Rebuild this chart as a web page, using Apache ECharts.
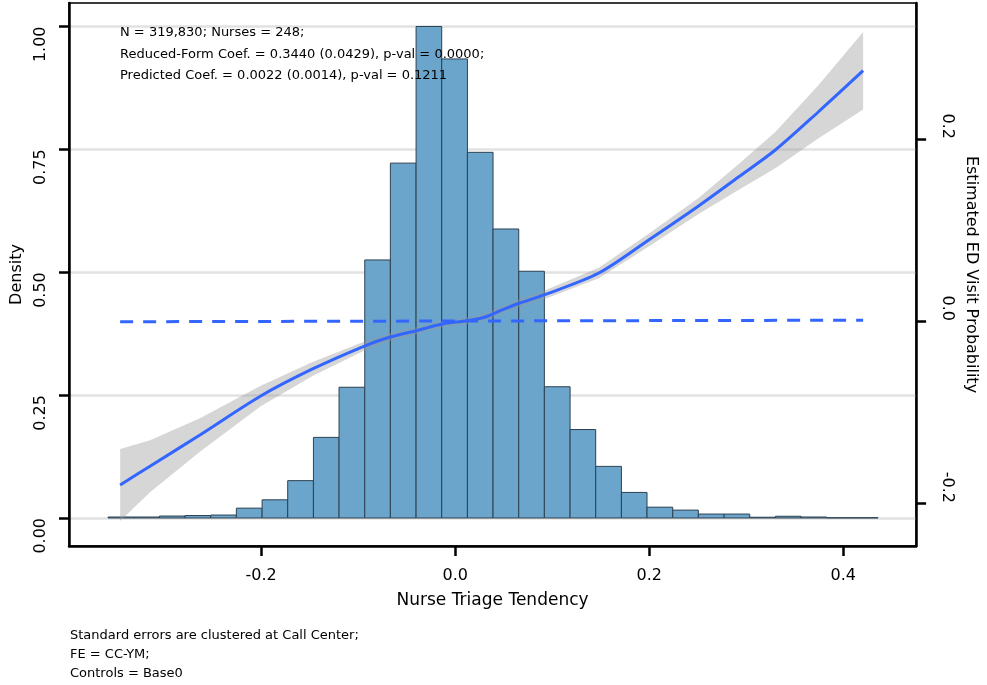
<!DOCTYPE html>
<html><head><meta charset="utf-8">
<script src="https://cdn.jsdelivr.net/npm/echarts@6/dist/echarts.min.js"></script>
<style>html,body{margin:0;padding:0;background:#fff}#c{width:987px;height:685px}</style>
</head><body><div id="c"></div>
<script>
// Histogram bin edges (Nurse Triage Tendency) and density heights
const binEdges = [-0.3577, -0.3313, -0.3048, -0.2784, -0.2519, -0.2255, -0.1990, -0.1726, -0.1461, -0.1197,
  -0.0932, -0.0668, -0.0403, -0.0139, 0.0126, 0.0390, 0.0655, 0.0919, 0.1184, 0.1448,
  0.1713, 0.1977, 0.2242, 0.2506, 0.2771, 0.3035, 0.3300, 0.3564, 0.3829, 0.4093, 0.4358];
const density = [0.002, 0.002, 0.004, 0.005, 0.006, 0.020, 0.037, 0.076, 0.164, 0.266,
  0.525, 0.722, 1.000, 0.934, 0.744, 0.588, 0.502, 0.267, 0.180, 0.105,
  0.052, 0.022, 0.016, 0.008, 0.008, 0.0015, 0.0035, 0.002, 0.0005, 0.0005];
// Reduced-form fit (right axis) with confidence band
const fitX = [-0.3453, -0.3145, -0.2631, -0.2004, -0.1470, -0.0935, -0.0678, -0.0401, -0.0134, 0.0123,
  0.0319, 0.0483, 0.0658, 0.0915, 0.1480, 0.1994, 0.2508, 0.2919, 0.3299, 0.3741, 0.4204];
const fitY = [-0.1802, -0.1596, -0.1253, -0.0824, -0.0527, -0.0275, -0.0179, -0.0107, -0.0033, 0.0003,
  0.0047, 0.0121, 0.0195, 0.0286, 0.0527, 0.0890, 0.1264, 0.1582, 0.1879, 0.2297, 0.2751];
const fitLower = [-0.2198, -0.1882, -0.1438, -0.0936, -0.0604, -0.0325, -0.0222, -0.0146, -0.0068, -0.0032,
  0.0010, 0.0081, 0.0153, 0.0239, 0.0470, 0.0820, 0.1175, 0.1440, 0.1680, 0.2005, 0.2325];
const fitUpper = [-0.1407, -0.1310, -0.1068, -0.0712, -0.0450, -0.0225, -0.0136, -0.0068, 0.0002, 0.0038,
  0.0084, 0.0161, 0.0237, 0.0333, 0.0584, 0.0960, 0.1353, 0.1724, 0.2078, 0.2589, 0.3177];
// Predicted fit (dashed)
const predX = [-0.3453, 0.4204];
const predY = [-0.0008, 0.0009];
// Tick labels
const xTicks = [-0.2, 0.0, 0.2, 0.4];
const densityTicks = [0, 0.25, 0.5, 0.75, 1.0];
const probTicks = [-0.2, 0.0, 0.2];
const noteTop = ['N = 319,830; Nurses = 248;',
  'Reduced-Form Coef. = 0.3440 (0.0429), p-val = 0.0000;',
  'Predicted Coef. = 0.0022 (0.0014), p-val = 0.1211'];
const noteBottom = ['Standard errors are clustered at Call Center;', 'FE = CC-YM;', 'Controls = Base0'];

const FONT = 'DejaVu Sans';
const chart = echarts.init(document.getElementById('c'), null, {renderer: 'canvas'});
const axisLineStyle = {color: '#000', width: 2.5};
chart.setOption({
  animation: false,
  backgroundColor: '#fff',
  textStyle: {fontFamily: FONT},
  grid: {left: 69, right: 69, top: 3, bottom: 139, show: true, borderColor: '#3a3a3a', borderWidth: 2, backgroundColor: 'transparent'},
  xAxis: {
    type: 'value', min: -0.398, max: 0.475,
    axisLine: {show: true, onZero: false, lineStyle: axisLineStyle},
    axisTick: {show: true, length: 10, lineStyle: axisLineStyle, customValues: xTicks},
    axisLabel: {customValues: xTicks, formatter: v => v.toFixed(1), fontSize: 16, color: '#000', margin: 22, fontFamily: FONT},
    splitLine: {show: false},
    name: 'Nurse Triage Tendency', nameLocation: 'middle', nameGap: 46,
    nameTextStyle: {fontSize: 17, color: '#000', fontFamily: FONT}
  },
  yAxis: [{
    type: 'value', min: -0.057, max: 1.0478, position: 'left',
    axisLine: {show: true, onZero: false, lineStyle: axisLineStyle},
    axisTick: {show: true, length: 10, lineStyle: axisLineStyle, customValues: densityTicks},
    axisLabel: {customValues: densityTicks, formatter: v => v.toFixed(2), rotate: 90, align: 'right', verticalAlign: 'bottom',
      fontSize: 16, color: '#000', margin: 20, fontFamily: FONT},
    splitLine: {show: true, lineStyle: {color: '#e2e2e2', width: 2.5}},
    name: 'Density', nameLocation: 'middle', nameRotate: 90, nameGap: 42,
    nameTextStyle: {fontSize: 16, color: '#000', fontFamily: FONT}
  }, {
    type: 'value', min: -0.2473, max: 0.3495, position: 'right',
    axisLine: {show: true, onZero: false, lineStyle: axisLineStyle},
    axisTick: {show: true, length: 10, lineStyle: axisLineStyle, customValues: probTicks},
    axisLabel: {customValues: probTicks, formatter: v => v.toFixed(1), rotate: -90, align: 'right', verticalAlign: 'bottom',
      fontSize: 16, color: '#000', margin: 23, fontFamily: FONT},
    splitLine: {show: false},
    name: 'Estimated ED Visit Probability', nameLocation: 'middle', nameRotate: -90, nameGap: 46,
    nameTextStyle: {fontSize: 16, color: '#000', fontFamily: FONT}
  }],
  series: [{
    type: 'custom', name: 'hist', xAxisIndex: 0, yAxisIndex: 0, clip: true,
    data: density.map((d, i) => [binEdges[i], binEdges[i + 1], d]),
    encode: {x: [0, 1], y: 2},
    renderItem: function (params, api) {
      const p0 = api.coord([api.value(0), 0]);
      const p1 = api.coord([api.value(1), api.value(2)]);
      return {type: 'rect', shape: {x: p0[0], y: p1[1], width: p1[0] - p0[0], height: p0[1] - p1[1]},
        style: {fill: '#6ba5cc', stroke: '#2d4150', lineWidth: 1}};
    },
    z: 2
  }, {
    type: 'custom', name: 'band', xAxisIndex: 0, yAxisIndex: 1, clip: true,
    data: fitX.map((x, i) => [x, fitLower[i], fitUpper[i]]),
    encode: {x: 0, y: [1, 2]},
    renderItem: function (params, api) {
      if (params.dataIndex !== 0) return null;
      const pts = [];
      for (let i = 0; i < fitX.length; i++) pts.push(api.coord([fitX[i], fitUpper[i]]));
      for (let i = fitX.length - 1; i >= 0; i--) pts.push(api.coord([fitX[i], fitLower[i]]));
      return {type: 'polygon', shape: {points: pts}, style: {fill: 'rgba(153,153,153,0.4)'}};
    },
    z: 3
  }, {
    type: 'line', name: 'fit', xAxisIndex: 0, yAxisIndex: 1,
    data: fitX.map((x, i) => [x, fitY[i]]), smooth: 0.3, showSymbol: false,
    lineStyle: {color: '#3366ff', width: 3}, z: 4
  }, {
    type: 'line', name: 'pred', xAxisIndex: 0, yAxisIndex: 1,
    data: predX.map((x, i) => [x, predY[i]]), showSymbol: false,
    lineStyle: {color: '#3366ff', width: 3, type: [13, 10]}, z: 4
  }],
  graphic: [{
    type: 'text', left: 120, top: 22, z: 100,
    style: {text: noteTop.join('\n'), fontSize: 13, lineHeight: 21.5, fill: '#000', fontFamily: FONT}
  }, {
    type: 'text', left: 70, top: 626, z: 100,
    style: {text: noteBottom.join('\n'), fontSize: 13, lineHeight: 19, fill: '#000', fontFamily: FONT}
  }]
});
</script></body></html>
